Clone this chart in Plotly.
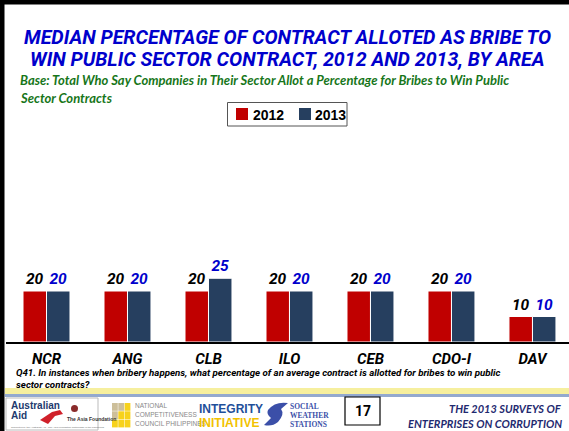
import plotly.graph_objects as go

categories = ["NCR", "ANG", "CLB", "ILO", "CEB", "CDO-I", "DAV"]
values_2012 = [20, 20, 20, 20, 20, 20, 10]
values_2013 = [20, 20, 25, 20, 20, 20, 10]
series_names = ["2012", "2013"]

W, H = 569, 431
def px(x): return x / W
def py(y): return 1 - y / H

RED = "#c00000"
NAVY = "#263f5f"
BLUE = "#0000cc"
GREEN = "#17761a"
FOOT = "#1f2a70"
SANS = "Roboto, Liberation Sans, Arial, sans-serif"
ARIAL = "Liberation Sans, Arial, sans-serif"

fig = go.Figure()
fig.add_trace(go.Bar(
    x=categories, y=values_2012, name=series_names[0],
    marker=dict(color=RED, line=dict(color="white", width=1)),
    text=[f"<b><i>{v}</i></b>" for v in values_2012], textposition="outside",
    textfont=dict(family=SANS, size=15.5, color="black"),
    cliponaxis=False,
))
fig.add_trace(go.Bar(
    x=categories, y=values_2013, name=series_names[1],
    marker=dict(color=NAVY, line=dict(color="white", width=1)),
    text=[f"<b><i>{v}</i></b>" for v in values_2013], textposition="outside",
    textfont=dict(family=SANS, size=15.5, color=BLUE),
    cliponaxis=False,
))

y_base = 342
y_top = 150
span = y_base - y_top
yr = 20 * span / 51.0

sx = -15  # swoosh shift
shapes = [
    dict(type="rect", xref="paper", yref="paper", x0=0, x1=px(4.5), y0=0, y1=1,
         fillcolor="black", line=dict(width=0)),
    dict(type="rect", xref="paper", yref="paper", x0=0, x1=1, y0=py(4.5), y1=1,
         fillcolor="black", line=dict(width=0)),
    dict(type="rect", xref="paper", yref="paper", x0=px(5), x1=1, y0=py(394), y1=py(388),
         fillcolor="#f6ef9e", line=dict(width=0)),
    dict(type="rect", xref="paper", yref="paper", x0=px(5), x1=1, y0=py(397), y1=py(394),
         fillcolor="#93a9cf", line=dict(width=0)),
    dict(type="rect", xref="paper", yref="paper", x0=px(6), x1=px(98), y0=py(430), y1=py(398),
         fillcolor="white", line=dict(color="#bbbbbb", width=1)),
    dict(type="rect", xref="paper", yref="paper", x0=px(345), x1=px(380), y0=py(425), y1=py(397),
         fillcolor="white", line=dict(color="black", width=1.2)),
    dict(type="path", xref="paper", yref="paper",
         path=f"M {px(40)},{py(420)} L {px(52)},{py(412)} L {px(60)},{py(410)} L {px(63)},{py(414)} L {px(55)},{py(416)} L {px(48)},{py(424)} Z",
         fillcolor="#d0202a", line=dict(width=0)),
    dict(type="circle", xref="paper", yref="paper", x0=px(71), x1=px(78), y0=py(412), y1=py(405),
         fillcolor="#8a2b2b", line=dict(width=0)),
    dict(type="path", xref="paper", yref="paper",
         path=f"M {px(283+sx)},{py(410)} Q {px(290+sx)},{py(401)} {px(303+sx)},{py(403)} L {px(296+sx)},{py(409)} Q {px(300+sx)},{py(414)} {px(293+sx)},{py(422)} Q {px(287+sx)},{py(427)} {px(279+sx)},{py(425)} L {px(286+sx)},{py(418)} Q {px(281+sx)},{py(414)} {px(283+sx)},{py(410)} Z",
         fillcolor="#3b4fa8", line=dict(width=0)),
    # legend box and swatches
    dict(type="rect", xref="paper", yref="paper", x0=px(227.5), x1=px(347), y0=py(126), y1=py(102.5),
         fillcolor="white", line=dict(color="#555555", width=1)),
    dict(type="rect", xref="paper", yref="paper", x0=px(236), x1=px(248), y0=py(120), y1=py(108),
         fillcolor=RED, line=dict(width=0)),
    dict(type="rect", xref="paper", yref="paper", x0=px(299), x1=px(311), y0=py(120), y1=py(108),
         fillcolor=NAVY, line=dict(width=0)),
]
for i in range(3):
    for j in range(3):
        col = "#f7d21c" if (i + j) >= 2 else "#cdbf9a"
        x0 = 112 + i * 6.3
        y0 = 403 + j * 8.3
        shapes.append(dict(type="rect", xref="paper", yref="paper",
                           x0=px(x0), x1=px(x0 + 5.8), y0=py(y0 + 7.8), y1=py(y0),
                           fillcolor=col, line=dict(width=0)))

def ann(x, y, text, size, color, xanchor="left", bold=False, italic=False, family=SANS):
    t = text
    if italic:
        t = f"<i>{t}</i>"
    if bold:
        t = f"<b>{t}</b>"
    return dict(xref="paper", yref="paper", x=px(x), y=py(y), text=t, showarrow=False,
                xanchor=xanchor, yanchor="middle",
                font=dict(family=family, size=size, color=color))

annotations = [
    ann(287, 37, "MEDIAN PERCENTAGE OF CONTRACT ALLOTED AS BRIBE TO", 19.6, BLUE, "center", True, True),
    ann(287, 60, "WIN PUBLIC SECTOR CONTRACT, 2012 AND 2013, BY AREA", 19.6, BLUE, "center", True, True),
    ann(18, 80, "Base: Total Who Say Companies in Their Sector Allot a Percentage for Bribes to Win Public", 13, GREEN, "left", True, True, "Lato, sans-serif"),
    ann(18, 98, "Sector Contracts", 13, GREEN, "left", True, True, "Lato, sans-serif"),
    ann(14, 372, "Q41. In instances when bribery happens, what percentage of an average contract is allotted for bribes to win public", 9.7, "black", "left", True, True),
    ann(14, 384, "sector contracts?", 9.7, "black", "left", True, True),
    # legend labels
    ann(251, 114.5, series_names[0], 14, "black", "left", True, False, ARIAL),
    ann(313, 114.5, series_names[1], 14, "black", "left", True, False, ARIAL),
    ann(362.5, 411, "17", 14, "black", "center", True),
    ann(564, 408, "THE 2013 SURVEYS OF", 11, FOOT, "right", True, True, "Lato, sans-serif"),
    ann(564, 423, "ENTERPRISES ON CORRUPTION", 11, FOOT, "right", True, True, "Lato, sans-serif"),
    ann(9, 405, "Australian", 10, "#1d3a6e", "left", True, False, ARIAL),
    ann(9, 415.5, "Aid", 10, "#1d3a6e", "left", True, False, ARIAL),
    ann(65, 419, "The Asia Foundation", 5, "#333333", "left", True, False, ARIAL),
    ann(9, 427, "Supported by the Australian Aid - The Asia Foundation Partnership in the Philippines", 2.5, "#666666", "left", False, False, ARIAL),
    ann(133, 405, "NATIONAL", 6.5, "#888888", "left", False, False, ARIAL),
    ann(133, 414, "COMPETITIVENESS", 6.5, "#888888", "left", False, False, ARIAL),
    ann(133, 423, "COUNCIL PHILIPPINES", 6.5, "#888888", "left", False, False, ARIAL),
    ann(197, 409, "INTEGRITY", 12, "#1f4f9a", "left", True, False, ARIAL),
    ann(197, 423, "INITIATIVE", 12, "#f2c200", "left", True, False, ARIAL),
    ann(288, 406, "SOCIAL", 7.5, "#3b4fa8", "left", True, family="Liberation Serif, serif"),
    ann(288, 415, "WEATHER", 7.5, "#3b4fa8", "left", True, family="Liberation Serif, serif"),
    ann(288, 424, "STATIONS", 7.5, "#3b4fa8", "left", True, family="Liberation Serif, serif"),
]

fig.update_layout(
    width=W, height=H, autosize=False,
    margin=dict(l=0, r=0, t=0, b=0),
    paper_bgcolor="white", plot_bgcolor="white",
    barmode="group", bargap=0.42, bargroupgap=0.0,
    showlegend=False,
    xaxis=dict(domain=[px(6), 1], range=[-0.5, 6.451], showgrid=False,
               showline=True, linecolor="black", linewidth=1.5, ticks="",
               tickmode="array", tickvals=categories,
               ticktext=[f"<b><i>{c}</i></b>" for c in categories],
               tickfont=dict(family=SANS, size=15, color="black"),
               ticklabelstandoff=2, fixedrange=True),
    yaxis=dict(domain=[py(y_base), py(y_top)], range=[0, yr], visible=False, fixedrange=True),
    shapes=shapes, annotations=annotations,
    font=dict(family=SANS),
)

fig.write_html("out.html", config={"displayModeBar": False},
               post_script="document.body.style.margin='0';")
